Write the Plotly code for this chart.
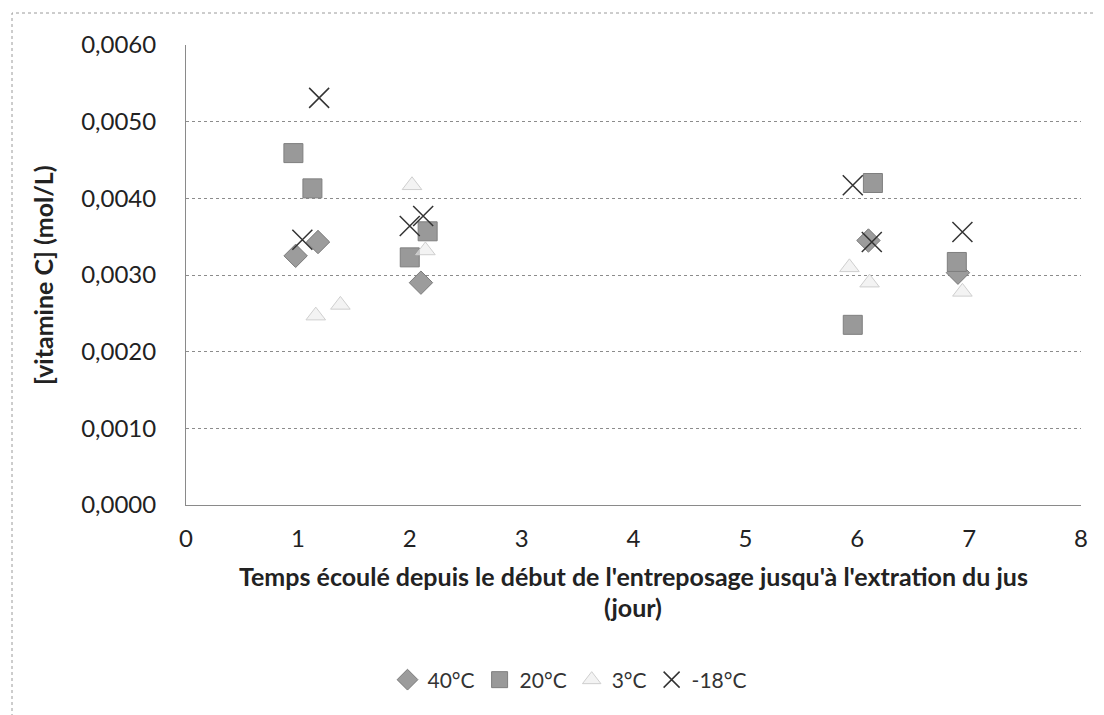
import plotly.graph_objects as go

# Data (days, [vitamine C] mol/L)
x_40 = [0.98, 1.18, 2.10, 6.10, 6.90]
y_40 = [0.00325, 0.00343, 0.00290, 0.00345, 0.00303]

x_20 = [0.96, 1.13, 2.00, 2.16, 5.96, 6.14, 6.89]
y_20 = [0.00459, 0.00413, 0.00323, 0.00357, 0.00235, 0.00420, 0.00317]

x_3 = [1.16, 1.38, 2.02, 2.14, 5.93, 6.11, 6.94]
y_3 = [0.00247, 0.00261, 0.00417, 0.00332, 0.00310, 0.00290, 0.00278]

x_m18 = [1.04, 1.19, 2.00, 2.12, 5.96, 6.13, 6.94]
y_m18 = [0.00346, 0.00531, 0.00364, 0.00377, 0.00417, 0.00343, 0.00356]

x_ticks = [0, 1, 2, 3, 4, 5, 6, 7, 8]
y_ticks = [0.0, 0.001, 0.002, 0.003, 0.004, 0.005, 0.006]

title_line1 = "Temps écoulé depuis le début de l'entreposage jusqu'à l'extration du jus"
title_line2 = "(jour)"
y_title = "[vitamine C] (mol/L)"

FONT = "Lato"
OFF = 8  # default page body margin

fig = go.Figure()
fig.add_trace(go.Scatter(x=x_40, y=y_40, mode="markers", name="40°C",
                         marker=dict(symbol="diamond", size=18, color="#9c9c9c",
                                     line=dict(color="#7a7a7a", width=1))))
fig.add_trace(go.Scatter(x=x_20, y=y_20, mode="markers", name="20°C",
                         marker=dict(symbol="square", size=19, color="#999999",
                                     line=dict(color="#7f7f7f", width=1))))
fig.add_trace(go.Scatter(x=x_3, y=y_3, mode="markers", name="3°C",
                         marker=dict(symbol="triangle-up", size=17, color="rgba(235,235,235,0.6)",
                                     line=dict(color="#cfcfcf", width=1))))
fig.add_trace(go.Scatter(x=x_m18, y=y_m18, mode="markers", name="-18°C",
                         marker=dict(symbol="x-thin-open", size=20, color="#333333",
                                     line=dict(color="#333333", width=1.5))))

FW, FH = 1104 - OFF, 715 - OFF
L, T = 186 - OFF, 45 - OFF
R = FW - (1081 - OFF)
B = FH - (505 - OFF)
W, H = FW - L - R, FH - T - B


def px_x(p):
    return (p - 186) / W


def px_y(p):
    return (505 - p) / H


fig.update_layout(
    width=FW, height=FH,
    margin=dict(l=L, r=R, t=T, b=B),
    paper_bgcolor="white", plot_bgcolor="white",
    separators=", ",
    font=dict(family=FONT, size=22, color="#222222"),
    showlegend=True,
    legend=dict(orientation="h", x=px_x(570), xanchor="center",
                y=px_y(680), yanchor="middle",
                font=dict(family=FONT, size=21, color="#333333"),
                itemwidth=30, tracegroupgap=0),
    xaxis=dict(range=[0, 8], tickvals=x_ticks, showgrid=False,
               showline=True, linecolor="#8a8a8a", linewidth=1,
               zeroline=False, ticks="", ticklabelstandoff=12,
               tickfont=dict(family=FONT, size=24, color="#222222")),
    yaxis=dict(range=[0, 0.006], tickvals=y_ticks, tickformat=".4f",
               showgrid=True, gridcolor="#8c8c8c", griddash="dot", gridwidth=1,
               showline=True, linecolor="#8a8a8a", linewidth=1,
               zeroline=False, ticks="", ticklabelstandoff=24,
               tickfont=dict(family=FONT, size=24, color="#222222")),
)

fig.add_annotation(xref="paper", yref="paper", x=px_x(633), y=px_y(576),
                   text="<b>" + title_line1 + "</b>",
                   showarrow=False, xanchor="center", yanchor="middle",
                   font=dict(family=FONT, size=25, color="#222222"))
fig.add_annotation(xref="paper", yref="paper", x=px_x(633), y=px_y(607),
                   text="<b>" + title_line2 + "</b>",
                   showarrow=False, xanchor="center", yanchor="middle",
                   font=dict(family=FONT, size=25, color="#222222"))
fig.add_annotation(xref="paper", yref="paper", x=px_x(43), y=px_y(275),
                   text="<b>" + y_title + "</b>", textangle=-90,
                   showarrow=False, xanchor="center", yanchor="middle",
                   font=dict(family=FONT, size=25, color="#222222"))

# outer chart-area border
fig.add_shape(type="rect", xref="paper", yref="paper",
              x0=px_x(12), x1=px_x(1130), y0=px_y(760), y1=px_y(13),
              line=dict(color="#9a9a9a", width=1, dash="dot"), layer="below")

fig.write_html("out.html")
